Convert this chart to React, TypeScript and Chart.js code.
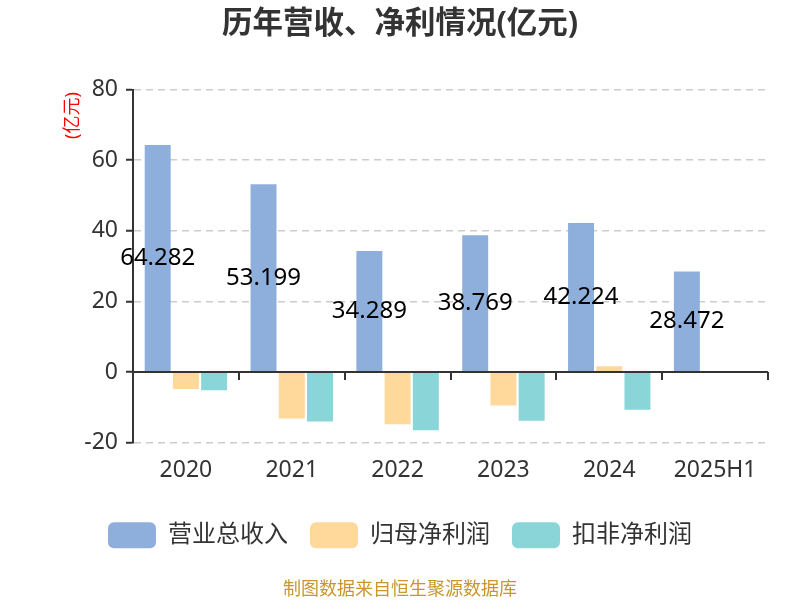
import React, { useEffect, useRef } from "react";
import { Chart, registerables } from "chart.js";

Chart.register(...registerables);

const categories = ["2020", "2021", "2022", "2023", "2024", "2025H1"];
const revenue = [64.282, 53.199, 34.289, 38.769, 42.224, 28.472];
const netProfit = [-4.8, -13.2, -14.8, -9.5, 1.6, 0.3];
const deductedProfit = [-5.2, -14.0, -16.5, -13.8, -10.7, -0.2];
const seriesNames = ["营业总收入", "归母净利润", "扣非净利润"];
const yMin = -20;
const yMax = 80;
const yStep = 20;
const unitLabel = "(亿元)";

const FONT = "'Noto Sans', 'Noto Sans CJK SC', sans-serif";

const zeroLinePlugin = {
  id: "zeroLine",
  afterDatasetsDraw(chart: any) {
    const { ctx, chartArea, scales } = chart;
    const x = scales.x;
    const y = scales.y;
    const y0 = y.getPixelForValue(0);
    const n = categories.length;
    const step = (chartArea.right - chartArea.left) / n;
    ctx.save();
    ctx.strokeStyle = "#333";
    ctx.lineWidth = 2;
    ctx.beginPath();
    ctx.moveTo(chartArea.left, y0);
    ctx.lineTo(chartArea.right, y0);
    ctx.stroke();
    ctx.beginPath();
    for (let i = 0; i <= n; i++) {
      const px = Math.round(x.getPixelForValue(0) - step / 2 + i * step);
      ctx.moveTo(px, y0);
      ctx.lineTo(px, y0 + 8);
    }
    ctx.stroke();
    ctx.restore();
  },
};

const labelPlugin = {
  id: "barLabels",
  afterDatasetsDraw(chart: any) {
    const { ctx } = chart;
    const meta = chart.getDatasetMeta(0);
    ctx.save();
    ctx.font = `24px ${FONT}`;
    ctx.fillStyle = "#000";
    ctx.textAlign = "center";
    ctx.textBaseline = "middle";
    meta.data.forEach((bar: any, i: number) => {
      const mid = (bar.y + bar.base) / 2;
      ctx.fillText(revenue[i].toFixed(3), bar.x, mid);
    });
    ctx.restore();
  },
};

const unitPlugin = {
  id: "unitLabel",
  afterDraw(chart: any) {
    const { ctx, chartArea } = chart;
    ctx.save();
    ctx.font = `18px ${FONT}`;
    ctx.fillStyle = "red";
    ctx.textAlign = "center";
    ctx.textBaseline = "middle";
    ctx.translate(chartArea.left - 60, chartArea.top + 26);
    ctx.rotate(-Math.PI / 2);
    ctx.fillText(unitLabel, 0, 0);
    ctx.restore();
  },
};

export default function App() {
  const ref = useRef<HTMLCanvasElement>(null);
  useEffect(() => {
    document.body.style.margin = "0";
    const chart = new Chart(ref.current!, {
      type: "bar",
      data: {
        labels: categories,
        datasets: [
          { label: seriesNames[0], data: revenue, backgroundColor: "#8eaedb" },
          { label: seriesNames[1], data: netProfit, backgroundColor: "#ffd99b" },
          { label: seriesNames[2], data: deductedProfit, backgroundColor: "#89d5d8" },
        ],
      },
      options: {
        animation: false,
        responsive: false,
        layout: { padding: { left: 21, right: 21, top: 0, bottom: 0 } },
        datasets: { bar: { categoryPercentage: 0.8, barPercentage: 0.92 } },
        scales: {
          x: {
            grid: { display: false, drawTicks: false },
            border: { display: false },
            ticks: { color: "#333", font: { size: 23, family: FONT }, padding: 14 },
            afterFit(scale: any) {
              scale.height += 2;
            },
          },
          y: {
            min: yMin,
            max: yMax,
            ticks: { stepSize: yStep, color: "#333", font: { size: 23, family: FONT }, padding: 8 },
            grid: {
              color: (c: any) => (c.tick && c.tick.value === 0 ? "rgba(0,0,0,0)" : "#ccc"),
              lineWidth: 1.5,
              tickColor: "#333",
              tickLength: 7,
              tickWidth: 2,
              tickBorderDash: [],
            },
            border: { color: "#333", width: 2, dash: [7, 5] },
            afterFit(scale: any) {
              scale.width = 112;
            },
          },
          yRight: {
            position: "right",
            display: true,
            grid: { display: false, drawTicks: false },
            border: { display: false },
            ticks: { display: false },
            afterFit(scale: any) {
              scale.width = 11;
            },
          },
        },
        plugins: {
          title: {
            display: true,
            text: "历年营收、净利情况(亿元)",
            color: "#333",
            font: { size: 30.5, weight: "bold", family: FONT },
            padding: { top: 6, bottom: 47 },
          },
          subtitle: {
            display: true,
            position: "bottom",
            text: "制图数据来自恒生聚源数据库",
            color: "#c9962b",
            font: { size: 18, family: FONT, lineHeight: 1.1 },
            padding: { top: 22, bottom: 0 },
          },
          legend: {
            position: "bottom",
            labels: {
              boxWidth: 48,
              boxHeight: 26,
              useBorderRadius: true,
              borderRadius: 6,
              color: "#333",
              font: { size: 24, family: FONT },
              padding: 22,
            },
          },
          tooltip: { enabled: false },
        },
      },
      plugins: [zeroLinePlugin, labelPlugin, unitPlugin],
    });
    return () => chart.destroy();
  }, []);
  return (
    <div style={{ width: 800, height: 600 }}>
      <canvas ref={ref} width={800} height={600} />
    </div>
  );
}
